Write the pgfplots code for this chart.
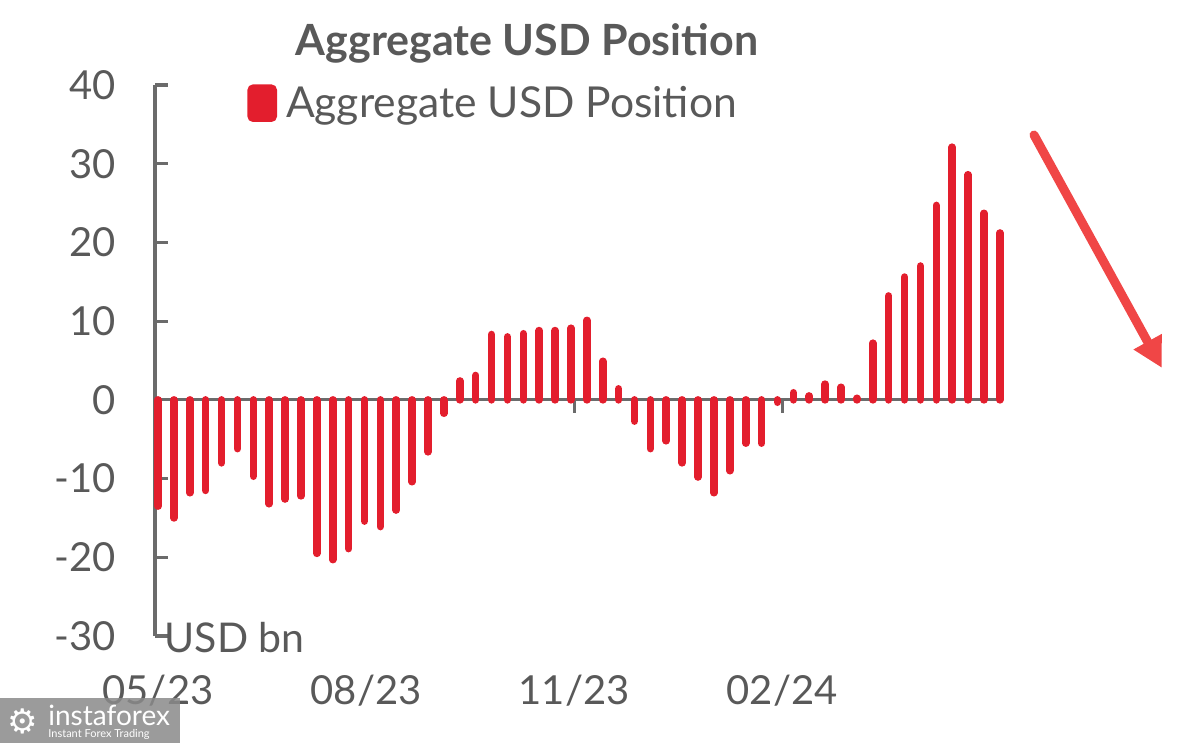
\documentclass[border=0pt]{standalone}
\usepackage{fontspec}
\setmainfont{Lato}
\newfontfamily\djv{DejaVu Sans}
\usepackage{pgfplots}
\pgfplotsset{compat=1.18}
\usetikzlibrary{arrows.meta}
\definecolor{barred}{HTML}{E31E2D}
\definecolor{txtgrey}{HTML}{595959}
\definecolor{axgrey}{HTML}{6B6B6B}
\definecolor{arrowred}{HTML}{F04646}
\definecolor{wmgrey}{HTML}{8A8A8A}

\pgfplotstableread{
x y
0 -13.5
1 -15.0
2 -11.8
3 -11.5
4 -8.0
5 -6.2
6 -9.7
7 -13.2
8 -12.6
9 -12.2
10 -19.5
11 -20.3
12 -18.9
13 -15.4
14 -16.1
15 -14.0
16 -10.4
17 -6.6
18 -1.7
19 2.4
20 3.1
21 8.3
22 8.0
23 8.4
24 8.8
25 8.8
26 9.1
27 10.1
28 4.9
29 1.4
30 -2.7
31 -6.2
32 -5.2
33 -8.0
34 -9.8
35 -11.8
36 -9.0
37 -5.5
38 -5.5
39 -0.3
40 0.9
41 0.5
42 2.0
43 1.6
44 0.2
45 7.2
46 13.2
47 15.6
48 17.0
49 24.7
50 32.1
51 28.6
52 23.7
53 21.2
}\usdpos

\begin{document}
\begin{tikzpicture}
\path[use as bounding box] (0,0) rectangle (599pt,-371.5pt);
\begin{axis}[
  at={(77.5pt,-318pt)}, anchor=south west,
  scale only axis, width=424pt, height=275.5pt,
  xmin=-0.19, xmax=53.2, ymin=-30, ymax=40,
  axis x line*=middle, axis y line*=left,
  hide obscured x ticks=false, hide obscured y ticks=false,
  axis line style={axgrey, line width=1.6pt},
  tick style={axgrey, line width=1.6pt},
  major tick length=6.5pt,
  ytick align=inside, xtick align=outside,
  ytick={-30,-20,-10,0,10,20,30,40},
  yticklabels={{-30},{-20},{-10},0,10,20,30,40},
  xtick={0,13.1,26.2,39.3},
  xticklabels={05/23,08/23,11/23,02/24},
  tick label style={font=\fontsize{20}{24}\selectfont, text=txtgrey},
  yticklabel style={xshift=-16pt},
  xticklabel style={yshift=-127.5pt},
  title={Aggregate USD Position},
  title style={at={(0.4387,1.054)}, anchor=center, font=\bfseries\fontsize{21.5}{25}\selectfont, text=txtgrey},
  legend style={at={(0.1085,0.967)}, anchor=west, draw=none, fill=none, inner sep=0pt,
    font=\fontsize{21.3}{25}\selectfont, text=txtgrey,
    /tikz/every odd column/.append style={column sep=2.5pt}},
  legend cell align=left,
  clip=false,
]
\addplot[ycomb, draw=barred, line width=3.8pt, line cap=round, mark=none,
  legend image code/.code={\fill[barred, rounded corners=1.2pt] (0pt,-7.5pt) rectangle (11pt,7.5pt);}]
  table[x=x, y=y] {\usdpos};
\addlegendentry{Aggregate USD Position}
\node[anchor=west, font=\fontsize{20.5}{24}\selectfont, text=txtgrey, inner sep=0pt] at (rel axis cs:0.011,-0.003) {USD bn};
\end{axis}
\draw[arrowred, line width=4.5pt, line cap=round, -{Triangle[width=15pt,length=15pt]}] (517pt,-67.5pt) -- (581pt,-184pt);
\fill[wmgrey, fill opacity=0.85] (0pt,-349pt) rectangle (90pt,-371.5pt);
\node[white, anchor=west, font=\fontsize{14}{14}\selectfont, inner sep=0pt] at (24pt,-357.5pt) {instaforex};
\node[white, anchor=west, font=\fontsize{5.5}{6}\selectfont, inner sep=0pt] at (24pt,-367pt) {Instant Forex Trading};
\node[white, font=\djv\fontsize{17}{17}\selectfont, inner sep=0pt] at (11.5pt,-360.5pt) {⚙};
\end{tikzpicture}
\end{document}
